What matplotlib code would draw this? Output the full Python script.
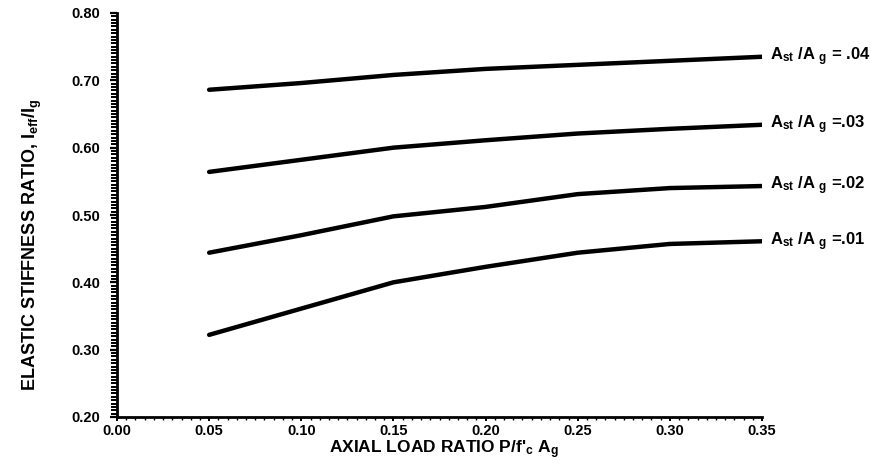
import matplotlib
matplotlib.use("Agg")
import matplotlib.pyplot as plt
from matplotlib.ticker import MultipleLocator, FixedLocator

plt.rcParams['font.family'] = ['Liberation Sans', 'DejaVu Sans']
plt.rcParams['font.weight'] = 'bold'
plt.rcParams['mathtext.fontset'] = 'custom'
plt.rcParams['mathtext.rm'] = 'Liberation Sans:bold'
plt.rcParams['mathtext.it'] = 'Liberation Sans:bold'
plt.rcParams['mathtext.bf'] = 'Liberation Sans:bold'
plt.rcParams['mathtext.default'] = 'bf'

# Data
axial_load = [0.05, 0.10, 0.15, 0.20, 0.25, 0.30, 0.35]
ratio_01 = [0.322, 0.361, 0.400, 0.423, 0.444, 0.457, 0.461]
ratio_02 = [0.444, 0.470, 0.498, 0.512, 0.531, 0.540, 0.543]
ratio_03 = [0.564, 0.582, 0.600, 0.611, 0.621, 0.628, 0.634]
ratio_04 = [0.686, 0.696, 0.708, 0.717, 0.723, 0.729, 0.735]
series = [ratio_04, ratio_03, ratio_02, ratio_01]
series_labels = [r"A$_{st}$ /A $_{g}$ = .04", r"A$_{st}$ /A $_{g}$ =.03",
                 r"A$_{st}$ /A $_{g}$ =.02", r"A$_{st}$ /A $_{g}$ =.01"]
xticks = [0.00, 0.05, 0.10, 0.15, 0.20, 0.25, 0.30, 0.35]
xtick_labels = ["0.00", "0.05", "0.10", "0.15", "0.20", "0.25", "0.30", "0.35"]
yticks = [0.20, 0.30, 0.40, 0.50, 0.60, 0.70, 0.80]
ytick_labels = ["0.20", "0.30", "0.40", "0.50", "0.60", "0.70", "0.80"]

fig = plt.figure(figsize=(8.96, 4.70), dpi=100)
ax = fig.add_axes([117/896, 1-417/470, (762-117)/896, (417-13)/470])

for vals, lab in zip(series, series_labels):
    ax.plot(axial_load, vals, color='black', lw=3.2, solid_capstyle='round',
            solid_joinstyle='round')
    ax.annotate(lab, xy=(axial_load[-1], vals[-1]), xytext=(6, 0),
                textcoords='offset points', ha='left', va='center',
                fontsize=12, fontweight='bold', annotation_clip=False)

ax.set_xlim(0, 0.35)
ax.set_ylim(0.20, 0.80)
ax.xaxis.set_major_locator(FixedLocator(xticks))
ax.set_xticklabels(xtick_labels)
ax.yaxis.set_major_locator(FixedLocator(yticks))
ax.set_yticklabels(ytick_labels)
ax.xaxis.set_minor_locator(MultipleLocator(0.005))
ax.yaxis.set_minor_locator(MultipleLocator(0.005))

for s in ['top', 'right']:
    ax.spines[s].set_visible(False)
for s in ['left', 'bottom']:
    ax.spines[s].set_linewidth(2)

ax.tick_params(axis='y', which='major', direction='out', length=5, width=1.6,
               pad=7, labelsize=10.5)
ax.tick_params(axis='y', which='minor', direction='out', length=4, width=1.4)
ax.tick_params(axis='x', which='major', direction='out', length=3, width=1.4,
               pad=2, labelsize=10.5)
ax.tick_params(axis='x', which='minor', direction='out', length=2, width=1.0)
for t in ax.get_xticklabels() + ax.get_yticklabels():
    t.set_fontweight('bold')

fig.text(32/896, 1-245/470, r"ELASTIC STIFFNESS RATIO, I$_{eff}$/I$_{g}$",
         rotation=90, ha='center', va='center', fontsize=13, fontweight='bold')
fig.text(444/896, 1-450/470, r"AXIAL LOAD RATIO P/f'$_{c}$ A$_{g}$",
         ha='center', va='center', fontsize=12.5, fontweight='bold')

fig.savefig("out.png", dpi=100, facecolor='white')
